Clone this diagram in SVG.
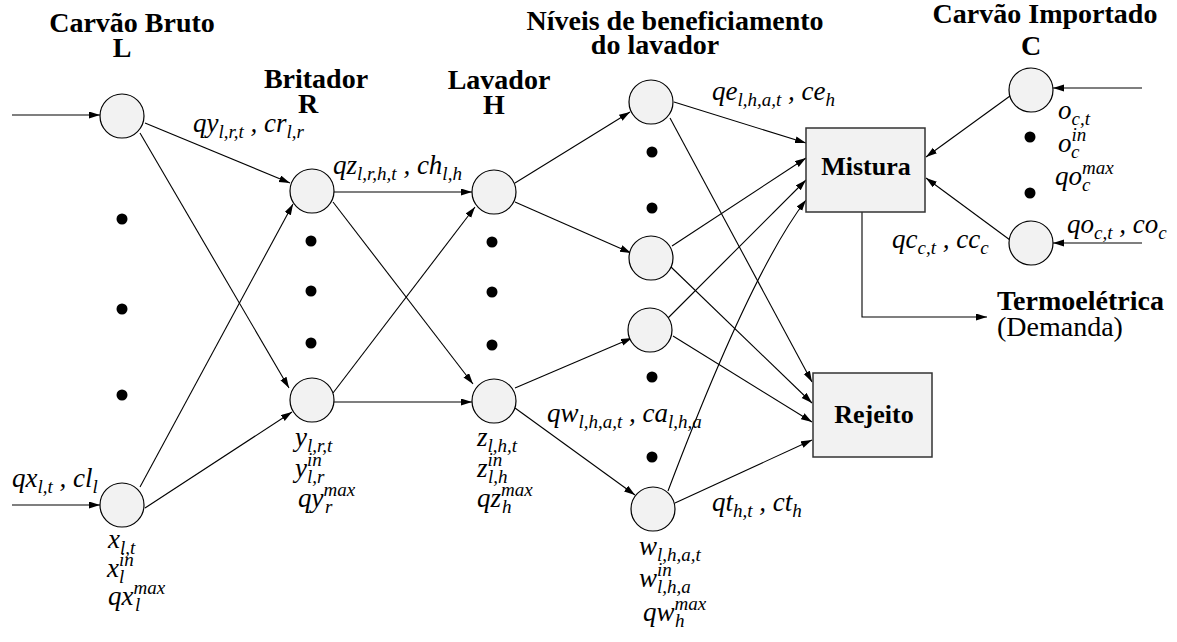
<svg xmlns="http://www.w3.org/2000/svg" width="1177" height="642" viewBox="0 0 1177 642">
<defs>
<marker id="ah" markerUnits="userSpaceOnUse" markerWidth="12" markerHeight="8" refX="11" refY="3.5" orient="auto">
<path d="M0,0 L11,3.5 L0,7 z" fill="#000"/>
</marker>
</defs>
<rect width="1177" height="642" fill="#fff"/>

<g id="headers" fill="#000" text-anchor="middle">
<text style="font-family:'Liberation Serif',serif;font-weight:bold;font-size:28px" x="132" y="32">Carvão Bruto</text>
<text style="font-family:'Liberation Serif',serif;font-weight:bold;font-size:28px" x="122" y="57">L</text>
<text style="font-family:'Liberation Serif',serif;font-weight:bold;font-size:28px" x="316" y="88">Britador</text>
<text style="font-family:'Liberation Serif',serif;font-weight:bold;font-size:28px" x="308" y="113">R</text>
<text style="font-family:'Liberation Serif',serif;font-weight:bold;font-size:28px" x="499" y="89">Lavador</text>
<text style="font-family:'Liberation Serif',serif;font-weight:bold;font-size:28px" x="494" y="114">H</text>
<text style="font-family:'Liberation Serif',serif;font-weight:bold;font-size:28px" x="675" y="30">Níveis de beneficiamento</text>
<text style="font-family:'Liberation Serif',serif;font-weight:bold;font-size:28px" x="655" y="54">do lavador</text>
<text style="font-family:'Liberation Serif',serif;font-weight:bold;font-size:28px" x="1045" y="23">Carvão Importado</text>
<text style="font-family:'Liberation Serif',serif;font-weight:bold;font-size:28px" x="1031" y="55">C</text>
</g>

<g id="connectors" fill="none" stroke="#000" stroke-width="1.1" marker-end="url(#ah)">
<line x1="12" y1="115" x2="100" y2="115"/>
<line x1="12" y1="505" x2="100" y2="505"/>
<line x1="145" y1="123" x2="290" y2="183"/>
<line x1="140" y1="133" x2="289" y2="388"/>
<line x1="140" y1="487" x2="293" y2="204"/>
<line x1="145" y1="508" x2="292" y2="412"/>
<line x1="334" y1="192" x2="472" y2="192"/>
<line x1="334" y1="402" x2="472" y2="402"/>
<line x1="333" y1="202" x2="473" y2="384"/>
<line x1="333" y1="393" x2="475" y2="207"/>
<line x1="515" y1="183" x2="630" y2="112"/>
<line x1="515" y1="202" x2="631" y2="253"/>
<line x1="515" y1="388" x2="632" y2="338"/>
<line x1="515" y1="408" x2="635" y2="495"/>
<line x1="674" y1="102" x2="806" y2="143"/>
<line x1="670" y1="118" x2="812" y2="382"/>
<line x1="672" y1="246" x2="806" y2="158"/>
<line x1="671" y1="267" x2="812" y2="403"/>
<line x1="668" y1="318" x2="806" y2="180"/>
<line x1="673" y1="336" x2="812" y2="422"/>
<path d="M668,491 Q751,272 806,200"/>
<line x1="675" y1="503" x2="812" y2="440"/>
<line x1="1010" y1="96" x2="926" y2="157"/>
<line x1="1010" y1="240" x2="926" y2="178"/>
<line x1="1142" y1="88" x2="1053" y2="88"/>
<line x1="1142" y1="243" x2="1053" y2="243"/>
<path d="M862,212 V317 H987"/>
</g>

<g id="dots" fill="#000">
<circle cx="122" cy="219" r="5.5"/>
<circle cx="122" cy="309" r="5.5"/>
<circle cx="122" cy="395" r="5.5"/>
<circle cx="311" cy="241" r="5.5"/>
<circle cx="311" cy="291" r="5.5"/>
<circle cx="311" cy="343" r="5.5"/>
<circle cx="492" cy="242" r="5.5"/>
<circle cx="492" cy="292" r="5.5"/>
<circle cx="492" cy="345" r="5.5"/>
<circle cx="652" cy="152" r="5.5"/>
<circle cx="652" cy="208" r="5.5"/>
<circle cx="652" cy="377" r="5.5"/>
<circle cx="652" cy="457" r="5.5"/>
<circle cx="1030" cy="137" r="5.5"/>
<circle cx="1030" cy="193" r="5.5"/>
</g>

<g id="nodes" fill="#f2f2f2" stroke="#000" stroke-width="1.2">
<g id="L1"><circle cx="122" cy="116" r="22"/></g>
<g id="L2"><circle cx="122" cy="505" r="22"/></g>
<g id="R1"><circle cx="312" cy="191" r="22"/></g>
<g id="R2"><circle cx="312" cy="400" r="22"/></g>
<g id="H1"><circle cx="494" cy="192" r="22"/></g>
<g id="H2"><circle cx="494" cy="401" r="22"/></g>
<g id="A1"><circle cx="651" cy="102" r="22"/></g>
<g id="A2"><circle cx="651" cy="258" r="22"/></g>
<g id="A3"><circle cx="650" cy="330" r="22"/></g>
<g id="A4"><circle cx="653" cy="509" r="22"/></g>
<g id="C1"><circle cx="1031" cy="90" r="22"/></g>
<g id="C2"><circle cx="1031" cy="243" r="22"/></g>
</g>
<g id="mistura"><rect x="806" y="128" width="119" height="84" fill="#f2f2f2" stroke="#333" stroke-width="1.5"/><text style="font-family:'Liberation Serif',serif;font-weight:bold;font-size:26px" fill="#000" x="866" y="175" text-anchor="middle">Mistura</text></g>
<g id="rejeito"><rect x="813" y="373" width="119" height="84" fill="#f2f2f2" stroke="#333" stroke-width="1.5"/><text style="font-family:'Liberation Serif',serif;font-weight:bold;font-size:26px" fill="#000" x="874" y="423" text-anchor="middle">Rejeito</text></g>
<g id="termoeletrica" fill="#000">
<text style="font-family:'Liberation Serif',serif;font-weight:bold;font-size:28px" x="997" y="310">Termoelétrica</text>
<text style="font-family:'Liberation Serif',serif;font-size:28px" x="997" y="336">(Demanda)</text>
</g>

<g id="labels" fill="#000">
<text style="font-family:'Liberation Serif',serif;font-style:italic;font-size:27px" x="193" y="132">qy<tspan font-size="19" dy="6">l,r,t</tspan><tspan dy="-6"> , cr</tspan><tspan font-size="19" dy="6">l,r</tspan></text>
<text style="font-family:'Liberation Serif',serif;font-style:italic;font-size:27px" x="333" y="174">qz<tspan font-size="19" dy="6">l,r,h,t</tspan><tspan dy="-6"> , ch</tspan><tspan font-size="19" dy="6">l,h</tspan></text>
<text style="font-family:'Liberation Serif',serif;font-style:italic;font-size:27px" x="712" y="100">qe<tspan font-size="19" dy="6">l,h,a,t</tspan><tspan dy="-6"> , ce</tspan><tspan font-size="19" dy="6">h</tspan></text>
<text style="font-family:'Liberation Serif',serif;font-style:italic;font-size:27px" x="547" y="422">qw<tspan font-size="19" dy="6">l,h,a,t</tspan><tspan dy="-6"> , ca</tspan><tspan font-size="19" dy="6">l,h,a</tspan></text>
<text style="font-family:'Liberation Serif',serif;font-style:italic;font-size:27px" x="712" y="511">qt<tspan font-size="19" dy="6">h,t</tspan><tspan dy="-6"> , ct</tspan><tspan font-size="19" dy="6">h</tspan></text>
<text style="font-family:'Liberation Serif',serif;font-style:italic;font-size:27px" x="892" y="248">qc<tspan font-size="19" dy="6">c,t</tspan><tspan dy="-6"> , cc</tspan><tspan font-size="19" dy="6">c</tspan></text>
<text style="font-family:'Liberation Serif',serif;font-style:italic;font-size:27px" x="1067" y="233">qo<tspan font-size="19" dy="6">c,t</tspan><tspan dy="-6"> , co</tspan><tspan font-size="19" dy="6">c</tspan></text>
<text style="font-family:'Liberation Serif',serif;font-style:italic;font-size:27px" x="12" y="487">qx<tspan font-size="19" dy="6">l,t</tspan><tspan dy="-6"> , cl</tspan><tspan font-size="19" dy="6">l</tspan></text>

<text style="font-family:'Liberation Serif',serif;font-style:italic;font-size:27px" x="108" y="548">x<tspan font-size="19" dy="6">l,t</tspan></text>
<text style="font-family:'Liberation Serif',serif;font-style:italic;font-size:27px" x="107" y="577">x<tspan font-size="19" dy="-11">in</tspan><tspan font-size="19" x="119" dy="17">l</tspan></text>
<text style="font-family:'Liberation Serif',serif;font-style:italic;font-size:27px" x="108" y="605">qx<tspan font-size="19" dy="-11">max</tspan><tspan font-size="19" x="135" dy="17">l</tspan></text>

<text style="font-family:'Liberation Serif',serif;font-style:italic;font-size:27px" x="295" y="446">y<tspan font-size="19" dy="6">l,r,t</tspan></text>
<text style="font-family:'Liberation Serif',serif;font-style:italic;font-size:27px" x="295" y="477">y<tspan font-size="19" dy="-11">in</tspan><tspan font-size="19" x="307" dy="17">l,r</tspan></text>
<text style="font-family:'Liberation Serif',serif;font-style:italic;font-size:27px" x="298" y="507">qy<tspan font-size="19" dy="-11">max</tspan><tspan font-size="19" x="325" dy="17">r</tspan></text>

<text style="font-family:'Liberation Serif',serif;font-style:italic;font-size:27px" x="477" y="446">z<tspan font-size="19" dy="6">l,h,t</tspan></text>
<text style="font-family:'Liberation Serif',serif;font-style:italic;font-size:27px" x="477" y="477">z<tspan font-size="19" dy="-11">in</tspan><tspan font-size="19" x="488" dy="17">l,h</tspan></text>
<text style="font-family:'Liberation Serif',serif;font-style:italic;font-size:27px" x="477" y="507">qz<tspan font-size="19" dy="-11">max</tspan><tspan font-size="19" x="502" dy="17">h</tspan></text>

<text style="font-family:'Liberation Serif',serif;font-style:italic;font-size:27px" x="639" y="555">w<tspan font-size="19" dy="6">l,h,a,t</tspan></text>
<text style="font-family:'Liberation Serif',serif;font-style:italic;font-size:27px" x="639" y="587">w<tspan font-size="19" dy="-11">in</tspan><tspan font-size="19" x="657" dy="17">l,h,a</tspan></text>
<text style="font-family:'Liberation Serif',serif;font-style:italic;font-size:27px" x="643" y="621">qw<tspan font-size="19" dy="-11">max</tspan><tspan font-size="19" x="675" dy="17">h</tspan></text>

<text style="font-family:'Liberation Serif',serif;font-style:italic;font-size:27px" x="1058" y="119">o<tspan font-size="19" dy="6">c,t</tspan></text>
<text style="font-family:'Liberation Serif',serif;font-style:italic;font-size:27px" x="1058" y="152">o<tspan font-size="19" dy="-11">in</tspan><tspan font-size="19" x="1071" dy="17">c</tspan></text>
<text style="font-family:'Liberation Serif',serif;font-style:italic;font-size:27px" x="1055" y="185">qo<tspan font-size="19" dy="-11">max</tspan><tspan font-size="19" x="1082" dy="17">c</tspan></text>
</g>
</svg>
